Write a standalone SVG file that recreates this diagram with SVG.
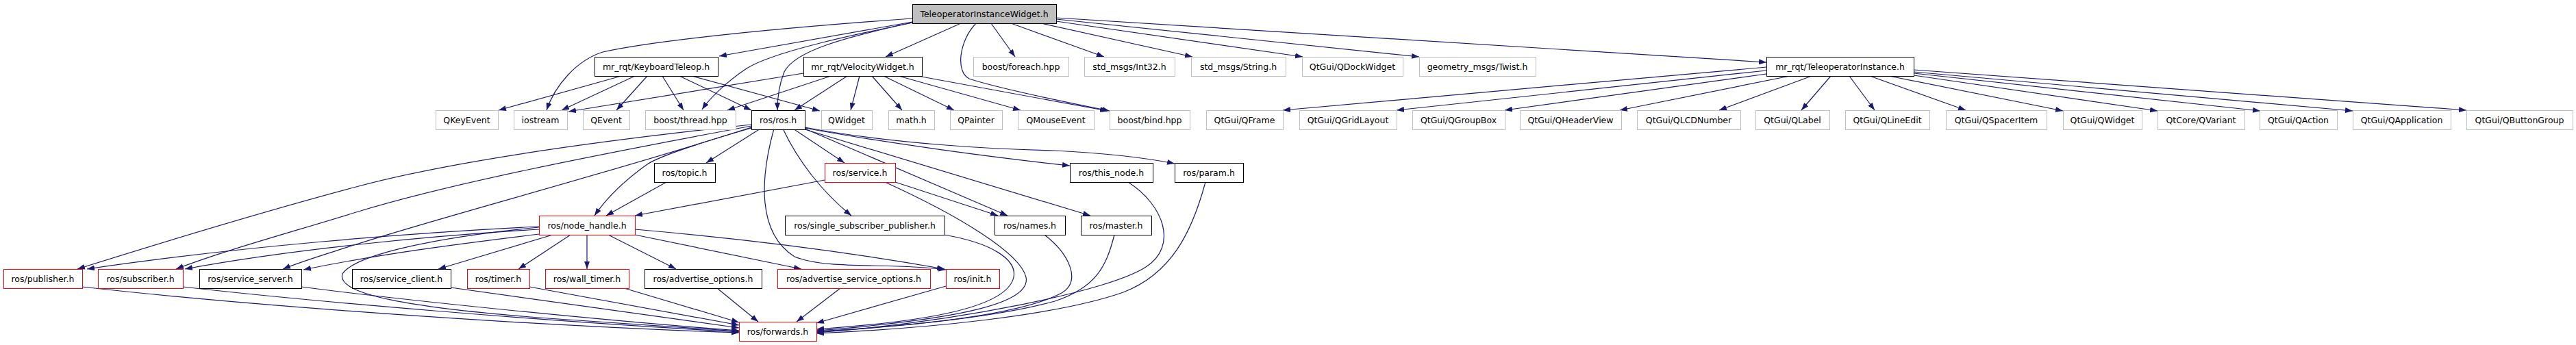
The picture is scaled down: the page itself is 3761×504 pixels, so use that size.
<svg xmlns="http://www.w3.org/2000/svg" width="3761" height="504" viewBox="0 0 3761 504">
<style>
rect{fill:#fff;stroke-width:1}
.g{stroke:#bfbfbf}
.b{stroke:#000}
.r{stroke:#ff0000}
.root{fill:#bfbfbf;stroke:#000}
text{font-family:"DejaVu Sans","Liberation Sans",sans-serif;font-size:12.5px;fill:#000;text-anchor:middle}
#edges path{fill:none;stroke:#191970;stroke-width:1.2;marker-end:url(#a)}
</style>
<defs>
<marker id="a" markerWidth="11" markerHeight="8" refX="11" refY="4" orient="auto" markerUnits="userSpaceOnUse"><path d="M0,0L11,4L0,8z" fill="#191970"/></marker>
</defs>
<rect x="0" y="0" width="3761" height="504" style="fill:#fff;stroke:none"/>
<g id="edges">
<!-- root -->
<path d="M1332,27 C1150,40 960,58 880,76 C842,88 810,125 798,161"/>
<path d="M1332,32 L1050,82"/>
<path d="M1332,33 C1250,50 1130,75 1090,100 C1060,120 1035,145 1025,160"/>
<path d="M1332,33 C1230,55 1160,75 1145,105 C1137,125 1135,145 1135,161"/>
<path d="M1403,34 L1293,83"/>
<path d="M1425,34 C1400,60 1395,105 1415,115 C1460,130 1560,150 1620,162"/>
<path d="M1447,34 L1482,83"/>
<path d="M1476,34 L1612,83"/>
<path d="M1520,34 L1741,83"/>
<path d="M1542,31 L1902,83"/>
<path d="M1542,28 L2072,83"/>
<path d="M1542,26 L2579,91"/>
<!-- KeyboardTeleop -->
<path d="M907,111 L728,161"/>
<path d="M927,111 L820,161"/>
<path d="M945,111 L900,161"/>
<path d="M967,111 L998,161"/>
<path d="M992,111 L1097,161"/>
<path d="M1010,111 L1197,162"/>
<!-- VelocityWidget -->
<path d="M1173,107 L830,163"/>
<path d="M1213,111 L1062,161"/>
<path d="M1237,111 L1160,161"/>
<path d="M1255,111 L1242,161"/>
<path d="M1273,111 L1317,161"/>
<path d="M1290,111 L1393,161"/>
<path d="M1312,111 L1490,161"/>
<path d="M1340,111 L1617,162"/>
<!-- TeleoperatorInstance -->
<path d="M2579,98 L1873,161"/>
<path d="M2579,103 L2039,161"/>
<path d="M2579,108 L2197,161"/>
<path d="M2613,111 L2365,161"/>
<path d="M2645,111 L2510,161"/>
<path d="M2673,111 L2630,161"/>
<path d="M2700,111 L2737,161"/>
<path d="M2730,111 L2870,161"/>
<path d="M2758,111 L3012,162"/>
<path d="M2794,110 L3150,162"/>
<path d="M2794,107 L3300,162"/>
<path d="M2794,105 L3435,162"/>
<path d="M2794,102 L3601,161"/>
<!-- ros.h -->
<path d="M1110,188 L1031,238"/>
<path d="M1158,188 L1233,238"/>
<path d="M1143,188 C1165,235 1200,280 1243,315"/>
<path d="M1130,188 C1110,260 1105,340 1160,375 C1210,395 1300,383 1381,394"/>
<path d="M1175,188 L1471,315"/>
<path d="M1175,189 L1592,315"/>
<path d="M1175,187 C1300,210 1450,230 1562,242"/>
<path d="M1175,186 C1300,210 1450,218 1540,220 C1620,224 1680,232 1715,239"/>
<path d="M1097,182 C880,205 660,235 520,273 C400,305 250,350 113,393"/>
<path d="M1097,184 C850,230 650,270 520,310 C430,338 330,365 257,393"/>
<path d="M1097,186 C900,250 650,315 520,357 C480,370 445,380 413,393"/>
<path d="M1097,187 C1000,215 960,230 945,240 C910,265 885,290 868,315"/>
<!-- topic / service -->
<path d="M973,266 L885,315"/>
<path d="M1204,263 L927,315"/>
<path d="M1307,266 L1457,315"/>
<path d="M1292,266 C1400,315 1490,370 1498,405 C1505,440 1420,465 1192,483"/>
<!-- row 4/5 to forwards -->
<path d="M1378,343 C1450,355 1485,380 1480,405 C1470,450 1350,470 1192,481"/>
<path d="M1525,343 C1560,370 1580,410 1550,428 C1480,465 1300,478 1192,484"/>
<path d="M1627,343 C1615,390 1600,420 1540,440 C1450,465 1300,478 1192,485"/>
<path d="M1647,266 C1700,300 1720,360 1673,390 C1620,425 1400,470 1192,486"/>
<path d="M1760,266 C1740,340 1710,400 1640,427 C1540,462 1350,480 1192,487"/>
<!-- node_handle -->
<path d="M787,331 C600,340 350,360 127,393"/>
<path d="M787,335 C620,345 420,365 270,393"/>
<path d="M787,342 C680,355 560,370 443,394"/>
<path d="M807,343 L640,393"/>
<path d="M833,343 L757,393"/>
<path d="M857,343 L857,393"/>
<path d="M888,343 L987,393"/>
<path d="M927,343 L1170,393"/>
<path d="M927,335 C1100,350 1250,370 1379,393"/>
<path d="M787,332 C650,345 520,370 500,400 C490,430 600,450 800,465 C900,472 1000,478 1079,484"/>
<!-- row 6 to forwards -->
<path d="M120,419 C350,445 750,475 1079,486"/>
<path d="M267,419 C450,440 800,470 1079,485"/>
<path d="M440,419 C600,440 900,470 1079,483"/>
<path d="M658,420 L1079,479"/>
<path d="M773,419 L1079,475"/>
<path d="M908,420 L1079,471"/>
<path d="M1047,421 L1107,470"/>
<path d="M1227,421 L1163,470"/>
<path d="M1381,418 L1192,472"/>
</g>
<g id="n_root"><rect class="root" x="1332.5" y="6.5" width="210" height="28"/><text x="1437" y="24.5">TeleoperatorInstanceWidget.h</text></g>
<g id="n_keyboard"><rect class="b" x="868.5" y="83.5" width="180" height="28"/><text x="958" y="101.5">mr_rqt/KeyboardTeleop.h</text></g>
<g id="n_velocity"><rect class="b" x="1173.5" y="83.5" width="173" height="28"/><text x="1259.5" y="101.5">mr_rqt/VelocityWidget.h</text></g>
<g id="n_foreach"><rect class="g" x="1421.5" y="83.5" width="139" height="28"/><text x="1490.5" y="101.5">boost/foreach.hpp</text></g>
<g id="n_int32"><rect class="g" x="1583.5" y="83.5" width="132" height="28"/><text x="1649" y="101.5">std_msgs/Int32.h</text></g>
<g id="n_string"><rect class="g" x="1739.5" y="83.5" width="138" height="28"/><text x="1808" y="101.5">std_msgs/String.h</text></g>
<g id="n_qdock"><rect class="g" x="1901.5" y="83.5" width="147" height="28"/><text x="1974.5" y="101.5">QtGui/QDockWidget</text></g>
<g id="n_twist"><rect class="g" x="2072.5" y="83.5" width="170" height="28"/><text x="2157" y="101.5">geometry_msgs/Twist.h</text></g>
<g id="n_teleinst"><rect class="b" x="2579.5" y="83.5" width="215" height="28"/><text x="2686.5" y="101.5">mr_rqt/TeleoperatorInstance.h</text></g>
<g id="n_qkeyevent"><rect class="g" x="636.5" y="161.5" width="91" height="28"/><text x="681.5" y="179.5">QKeyEvent</text></g>
<g id="n_iostream"><rect class="g" x="750.5" y="161.5" width="78" height="28"/><text x="789" y="179.5">iostream</text></g>
<g id="n_qevent"><rect class="g" x="851.5" y="161.5" width="68" height="28"/><text x="885" y="179.5">QEvent</text></g>
<g id="n_thread"><rect class="g" x="942.5" y="161.5" width="132" height="28"/><text x="1008" y="179.5">boost/thread.hpp</text></g>
<g id="n_ros"><rect class="b" x="1097.5" y="161.5" width="78" height="28"/><text x="1136" y="179.5">ros/ros.h</text></g>
<g id="n_qwidget"><rect class="g" x="1199.5" y="161.5" width="74" height="28"/><text x="1236" y="179.5">QWidget</text></g>
<g id="n_math"><rect class="g" x="1297.5" y="161.5" width="67" height="28"/><text x="1330.5" y="179.5">math.h</text></g>
<g id="n_qpainter"><rect class="g" x="1387.5" y="161.5" width="76" height="28"/><text x="1425" y="179.5">QPainter</text></g>
<g id="n_qmouse"><rect class="g" x="1486.5" y="161.5" width="111" height="28"/><text x="1541.5" y="179.5">QMouseEvent</text></g>
<g id="n_bind"><rect class="g" x="1620.5" y="161.5" width="117" height="28"/><text x="1678.5" y="179.5">boost/bind.hpp</text></g>
<g id="n_qframe"><rect class="g" x="1761.5" y="161.5" width="112" height="28"/><text x="1817" y="179.5">QtGui/QFrame</text></g>
<g id="n_qgrid"><rect class="g" x="1897.5" y="161.5" width="142" height="28"/><text x="1968" y="179.5">QtGui/QGridLayout</text></g>
<g id="n_qgroup"><rect class="g" x="2062.5" y="161.5" width="135" height="28"/><text x="2129.5" y="179.5">QtGui/QGroupBox</text></g>
<g id="n_qheader"><rect class="g" x="2219.5" y="161.5" width="148" height="28"/><text x="2293" y="179.5">QtGui/QHeaderView</text></g>
<g id="n_qlcd"><rect class="g" x="2390.5" y="161.5" width="151" height="28"/><text x="2465.5" y="179.5">QtGui/QLCDNumber</text></g>
<g id="n_qlabel"><rect class="g" x="2563.5" y="161.5" width="108" height="28"/><text x="2617" y="179.5">QtGui/QLabel</text></g>
<g id="n_qlineedit"><rect class="g" x="2694.5" y="161.5" width="123" height="28"/><text x="2755.5" y="179.5">QtGui/QLineEdit</text></g>
<g id="n_qspacer"><rect class="g" x="2841.5" y="161.5" width="147" height="28"/><text x="2914.5" y="179.5">QtGui/QSpacerItem</text></g>
<g id="n_qtguiwidget"><rect class="g" x="3012.5" y="161.5" width="115" height="28"/><text x="3069.5" y="179.5">QtGui/QWidget</text></g>
<g id="n_qvariant"><rect class="g" x="3150.5" y="161.5" width="127" height="28"/><text x="3213.5" y="179.5">QtCore/QVariant</text></g>
<g id="n_qaction"><rect class="g" x="3299.5" y="161.5" width="113" height="28"/><text x="3355.5" y="179.5">QtGui/QAction</text></g>
<g id="n_qapp"><rect class="g" x="3435.5" y="161.5" width="143" height="28"/><text x="3506.5" y="179.5">QtGui/QApplication</text></g>
<g id="n_qbutton"><rect class="g" x="3601.5" y="161.5" width="155" height="28"/><text x="3678.5" y="179.5">QtGui/QButtonGroup</text></g>
<g id="n_topic"><rect class="b" x="955.5" y="238.5" width="89" height="28"/><text x="999.5" y="256.5">ros/topic.h</text></g>
<g id="n_service"><rect class="r" x="1204.5" y="238.5" width="103" height="28"/><text x="1255.5" y="256.5">ros/service.h</text></g>
<g id="n_thisnode"><rect class="b" x="1562.5" y="238.5" width="121" height="28"/><text x="1622.5" y="256.5">ros/this_node.h</text></g>
<g id="n_param"><rect class="b" x="1715.5" y="238.5" width="100" height="28"/><text x="1765" y="256.5">ros/param.h</text></g>
<g id="n_nodehandle"><rect class="r" x="787.5" y="315.5" width="140" height="28"/><text x="857" y="333.5">ros/node_handle.h</text></g>
<g id="n_singlesub"><rect class="b" x="1146.5" y="315.5" width="233" height="28"/><text x="1262.5" y="333.5">ros/single_subscriber_publisher.h</text></g>
<g id="n_names"><rect class="b" x="1452.5" y="315.5" width="103" height="28"/><text x="1503.5" y="333.5">ros/names.h</text></g>
<g id="n_master"><rect class="b" x="1578.5" y="315.5" width="103" height="28"/><text x="1629.5" y="333.5">ros/master.h</text></g>
<g id="n_publisher"><rect class="r" x="5.5" y="393.5" width="115" height="28"/><text x="62.5" y="411.5">ros/publisher.h</text></g>
<g id="n_subscriber"><rect class="r" x="143.5" y="393.5" width="124" height="28"/><text x="205" y="411.5">ros/subscriber.h</text></g>
<g id="n_srvserver"><rect class="b" x="291.5" y="393.5" width="149" height="28"/><text x="365.5" y="411.5">ros/service_server.h</text></g>
<g id="n_srvclient"><rect class="b" x="514.5" y="393.5" width="144" height="28"/><text x="586" y="411.5">ros/service_client.h</text></g>
<g id="n_timer"><rect class="r" x="682.5" y="393.5" width="91" height="28"/><text x="727.5" y="411.5">ros/timer.h</text></g>
<g id="n_walltimer"><rect class="r" x="796.5" y="393.5" width="122" height="28"/><text x="857" y="411.5">ros/wall_timer.h</text></g>
<g id="n_advopt"><rect class="b" x="941.5" y="393.5" width="171" height="28"/><text x="1026.5" y="411.5">ros/advertise_options.h</text></g>
<g id="n_advsrvopt"><rect class="r" x="1135.5" y="393.5" width="223" height="28"/><text x="1246.5" y="411.5">ros/advertise_service_options.h</text></g>
<g id="n_init"><rect class="r" x="1381.5" y="393.5" width="78" height="28"/><text x="1420" y="411.5">ros/init.h</text></g>
<g id="n_forwards"><rect class="r" x="1079.5" y="470.5" width="113" height="28"/><text x="1135.5" y="488.5">ros/forwards.h</text></g>
</svg>
